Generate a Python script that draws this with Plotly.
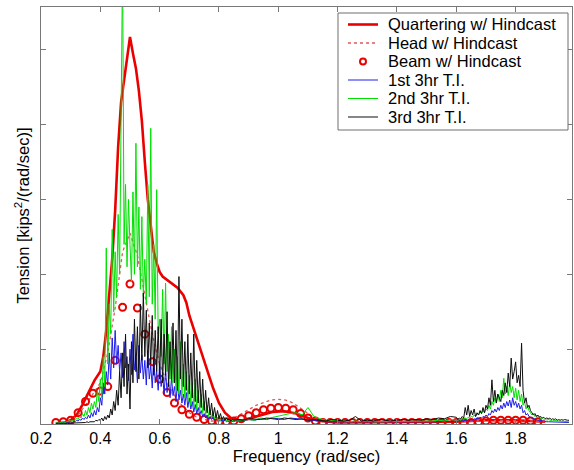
import numpy as np
import plotly.graph_objects as go

# ---------------- data ----------------
# Quartering w/ Hindcast (smooth spectrum)
quart_freq = [0.25, 0.28, 0.30, 0.32, 0.34, 0.36, 0.38, 0.40,
              0.41, 0.42, 0.43, 0.44, 0.45, 0.46, 0.47, 0.48, 0.49, 0.50, 0.51,
              0.52, 0.53, 0.54, 0.55, 0.56, 0.57, 0.58, 0.59, 0.60, 0.61, 0.62,
              0.64, 0.66, 0.68, 0.69, 0.70, 0.72, 0.74, 0.76, 0.78, 0.80,
              0.82, 0.84, 0.86, 0.88, 0.90, 0.94, 0.98, 1.02, 1.06, 1.10,
              1.14, 1.20, 1.30, 1.40, 1.50, 1.60, 1.70, 1.80, 1.90]
quart_vals = [0.01, 0.02, 0.05, 0.12, 0.26, 0.42, 0.58, 0.70,
              0.90, 1.25, 1.75, 2.20, 2.85, 3.70, 4.30, 4.60, 4.90, 5.17, 4.95,
              4.75, 4.45, 4.05, 3.50, 3.00, 2.65, 2.30, 2.15, 2.03, 1.97, 1.94,
              1.88, 1.82, 1.72, 1.62, 1.45, 1.20, 0.95, 0.70, 0.48, 0.28,
              0.15, 0.08, 0.05, 0.05, 0.07, 0.12, 0.16, 0.17, 0.14, 0.08,
              0.04, 0.02, 0.02, 0.02, 0.02, 0.03, 0.05, 0.05, 0.03]

# Head w/ Hindcast (dotted)
head_freq = np.round(np.arange(0.25, 1.9001, 0.025), 3)
head_vals = [0.01, 0.02, 0.05, 0.12, 0.25, 0.40, 0.55, 0.95,
             1.55, 2.30, 2.55, 2.25, 1.75, 1.20, 0.80, 0.55,
             0.38, 0.25, 0.15, 0.09, 0.06, 0.04, 0.04, 0.05,
             0.08, 0.13, 0.19, 0.25, 0.29, 0.32, 0.33, 0.32,
             0.28, 0.21, 0.13, 0.07, 0.04, 0.03, 0.03, 0.03,
             0.03, 0.03, 0.03, 0.03, 0.03, 0.03, 0.03, 0.03, 0.03, 0.03,
             0.03, 0.03, 0.03, 0.03, 0.03, 0.03, 0.03, 0.04, 0.05, 0.05,
             0.05, 0.05, 0.05, 0.05, 0.05, 0.04, 0.03]

# Beam w/ Hindcast (circles)
beam_freq = np.round(np.arange(0.25, 1.8751, 0.025), 3)
beam_vals = [0.02, 0.03, 0.05, 0.15, 0.30, 0.41, 0.44, 0.50,
             0.85, 1.56, 1.87, 1.55, 1.20, 0.83, 0.60, 0.42,
             0.28, 0.19, 0.13, 0.09, 0.06, 0.04, 0.03, 0.03,
             0.04, 0.07, 0.11, 0.15, 0.19, 0.21, 0.22, 0.21,
             0.19, 0.14, 0.08, 0.04, 0.02, 0.02, 0.02, 0.02,
             0.02, 0.02, 0.02, 0.02, 0.02, 0.02, 0.02, 0.02, 0.02,
             0.02, 0.02, 0.02, 0.02, 0.02, 0.02, 0.02, 0.02,
             0.03, 0.04, 0.05, 0.05, 0.05, 0.05, 0.05, 0.04, 0.03]

# time-integration spectra: three frequency bands
ti_freq_low = np.round(np.arange(0.25, 0.8501, 0.005), 3)
ti_freq_mid = np.round(np.arange(0.86, 1.6001, 0.02), 3)
ti_freq_high = np.round(np.arange(1.605, 1.9801, 0.005), 3)

ti1_low = [0.01, 0.01, 0.02, 0.01, 0.02, 0.02, 0.01, 0.02, 0.03, 0.02,
           0.03, 0.02, 0.04, 0.03, 0.05, 0.04, 0.06, 0.05, 0.08, 0.06,
           0.09, 0.07, 0.12, 0.08, 0.15, 0.10, 0.18, 0.12, 0.22, 0.16,
           0.35, 0.25, 0.55, 0.40, 0.70, 0.52, 0.95, 0.60, 1.15, 0.75,
           1.25, 0.80, 1.05, 0.70, 0.95, 0.62, 1.10, 0.75, 0.90, 0.58,
           1.00, 0.66, 1.20, 0.72, 0.88, 0.55, 1.05, 0.68, 0.92, 0.60,
           0.85, 0.52, 0.98, 0.60, 0.78, 0.48, 0.90, 0.55, 0.70, 0.45,
           0.80, 0.50, 0.65, 0.40, 0.72, 0.42, 0.58, 0.35, 0.62, 0.38,
           0.50, 0.30, 0.55, 0.32, 0.45, 0.28, 0.40, 0.25, 0.42, 0.22,
           0.35, 0.20, 0.30, 0.16, 0.26, 0.14, 0.22, 0.12, 0.18, 0.10,
           0.14, 0.08, 0.12, 0.07, 0.10, 0.06, 0.08, 0.05, 0.07, 0.05,
           0.06, 0.04, 0.05, 0.04, 0.05, 0.03, 0.04, 0.03, 0.04, 0.03,
           0.03]
ti1_mid = [0.05, 0.04, 0.06, 0.05, 0.07, 0.06, 0.08, 0.07, 0.06, 0.08,
           0.07, 0.06, 0.05, 0.04, 0.04, 0.03, 0.03, 0.03, 0.03, 0.02,
           0.03, 0.02, 0.03, 0.02, 0.02, 0.03, 0.02, 0.02, 0.03, 0.02,
           0.02, 0.03, 0.02, 0.03, 0.03, 0.04, 0.03, 0.04]
ti1_high = [0.04, 0.03, 0.04, 0.05, 0.04, 0.05, 0.04, 0.06, 0.05, 0.06,
            0.05, 0.07, 0.06, 0.08, 0.07, 0.09, 0.08, 0.10, 0.09, 0.12,
            0.10, 0.14, 0.12, 0.18, 0.15, 0.20, 0.16, 0.22, 0.18, 0.25,
            0.20, 0.28, 0.22, 0.30, 0.24, 0.32, 0.22, 0.35, 0.25, 0.30,
            0.22, 0.28, 0.20, 0.25, 0.15, 0.18, 0.12, 0.14, 0.10, 0.09,
            0.08, 0.07, 0.06, 0.06, 0.05, 0.05, 0.04, 0.04, 0.04, 0.03,
            0.03, 0.03, 0.03, 0.03, 0.02, 0.03, 0.02, 0.02, 0.02, 0.02,
            0.02, 0.02, 0.02, 0.02, 0.02, 0.02]

ti2_low = [0.01, 0.02, 0.01, 0.02, 0.02, 0.03, 0.02, 0.03, 0.03, 0.04,
           0.04, 0.05, 0.04, 0.06, 0.08, 0.06, 0.10, 0.08, 0.14, 0.10,
           0.18, 0.12, 0.22, 0.15, 0.28, 0.20, 0.30, 0.22, 0.45, 0.30,
           0.60, 0.35, 0.90, 0.50, 2.35, 0.80, 1.60, 1.20, 2.60, 1.50,
           2.30, 1.70, 2.80, 2.00, 4.70, 6.20, 2.40, 3.20, 2.10, 3.00,
           2.40, 1.90, 3.10, 2.00, 3.75, 2.10, 2.90, 1.80, 2.77, 1.70,
           2.20, 1.60, 3.20, 1.70, 3.95, 1.60, 2.40, 1.40, 3.13, 1.20,
           1.40, 0.90, 1.80, 0.80, 1.88, 0.70, 1.20, 0.60, 1.30, 0.55,
           1.00, 0.45, 0.90, 0.40, 1.10, 0.38, 0.80, 0.35, 0.70, 0.30,
           0.65, 0.25, 0.55, 0.22, 0.60, 0.20, 0.45, 0.18, 0.40, 0.15,
           0.30, 0.12, 0.25, 0.10, 0.20, 0.08, 0.15, 0.07, 0.12, 0.06,
           0.10, 0.05, 0.08, 0.05, 0.07, 0.04, 0.06, 0.04, 0.05, 0.04,
           0.04]
ti2_mid = [0.04, 0.05, 0.06, 0.05, 0.08, 0.07, 0.09, 0.10, 0.12, 0.14,
           0.15, 0.12, 0.22, 0.10, 0.07, 0.05, 0.05, 0.04, 0.04, 0.03,
           0.04, 0.03, 0.04, 0.03, 0.03, 0.04, 0.03, 0.03, 0.04, 0.03,
           0.04, 0.03, 0.04, 0.04, 0.05, 0.04, 0.06, 0.05]
ti2_high = [0.05, 0.06, 0.05, 0.07, 0.06, 0.08, 0.07, 0.09, 0.08, 0.10,
            0.09, 0.12, 0.10, 0.14, 0.12, 0.16, 0.14, 0.18, 0.15, 0.20,
            0.18, 0.25, 0.20, 0.30, 0.25, 0.35, 0.28, 0.40, 0.30, 0.45,
            0.35, 0.61, 0.40, 0.50, 0.38, 0.55, 0.42, 0.50, 0.35, 0.48,
            0.32, 0.45, 0.30, 0.40, 0.25, 0.30, 0.20, 0.25, 0.18, 0.15,
            0.12, 0.14, 0.10, 0.12, 0.08, 0.10, 0.07, 0.08, 0.06, 0.07,
            0.05, 0.06, 0.05, 0.05, 0.04, 0.05, 0.04, 0.04, 0.04, 0.04,
            0.03, 0.04, 0.03, 0.04, 0.03, 0.03]

ti3_low = [0.00, 0.01, 0.00, 0.01, 0.01, 0.00, 0.01, 0.01, 0.01, 0.01,
           0.01, 0.01, 0.02, 0.01, 0.02, 0.01, 0.02, 0.02, 0.02, 0.02,
           0.02, 0.03, 0.02, 0.03, 0.03, 0.04, 0.03, 0.05, 0.04, 0.06,
           0.05, 0.08, 0.04, 0.10, 0.06, 0.12, 0.08, 0.20, 0.12, 0.30,
           0.18, 0.45, 0.25, 0.70, 0.35, 0.95, 0.50, 1.20, 0.40, 0.80,
           0.20, 1.10, 0.55, 1.40, 0.70, 1.30, 0.60, 1.60, 0.85, 1.75,
           0.90, 1.52, 0.75, 1.35, 0.80, 1.45, 0.65, 1.25, 0.70, 1.30,
           0.60, 1.40, 0.55, 1.20, 0.65, 1.50, 0.50, 1.10, 0.60, 1.35,
           0.55, 1.25, 0.45, 1.97, 0.60, 1.40, 0.50, 1.10, 0.45, 1.20,
           0.40, 0.95, 0.35, 1.20, 0.30, 0.85, 0.28, 0.70, 0.22, 0.60,
           0.18, 0.45, 0.15, 0.35, 0.12, 0.28, 0.10, 0.22, 0.08, 0.18,
           0.07, 0.14, 0.06, 0.10, 0.05, 0.08, 0.05, 0.07, 0.04, 0.06,
           0.05]
ti3_mid = [0.06, 0.05, 0.07, 0.06, 0.06, 0.08, 0.07, 0.06, 0.08, 0.07,
           0.06, 0.07, 0.05, 0.06, 0.05, 0.04, 0.06, 0.05, 0.04, 0.05,
           0.10, 0.04, 0.05, 0.04, 0.06, 0.05, 0.04, 0.05, 0.06, 0.05,
           0.06, 0.05, 0.07, 0.06, 0.08, 0.07, 0.10, 0.09]
ti3_high = [0.06, 0.08, 0.07, 0.10, 0.08, 0.22, 0.12, 0.25, 0.10, 0.18,
            0.12, 0.20, 0.10, 0.15, 0.12, 0.18, 0.14, 0.22, 0.15, 0.25,
            0.20, 0.35, 0.25, 0.59, 0.30, 0.45, 0.28, 0.40, 0.35, 0.30,
            0.45, 0.38, 0.55, 0.42, 0.68, 0.50, 0.88, 0.60, 0.70, 0.83,
            0.55, 0.65, 0.50, 1.08, 0.45, 0.28, 0.35, 0.22, 0.25, 0.18,
            0.15, 0.12, 0.14, 0.10, 0.12, 0.09, 0.10, 0.08, 0.09, 0.07,
            0.08, 0.07, 0.08, 0.06, 0.07, 0.06, 0.07, 0.05, 0.06, 0.05,
            0.06, 0.05, 0.06, 0.05, 0.05, 0.05]

x_ticks = [0.2, 0.4, 0.6, 0.8, 1.0, 1.2, 1.4, 1.6, 1.8]
x_tick_labels = ["0.2", "0.4", "0.6", "0.8", "1", "1.2", "1.4", "1.6", "1.8"]
y_ticks = [0, 1, 2, 3, 4, 5]

series_names = ["Quartering w/ Hindcast", "Head w/ Hindcast", "Beam w/ Hindcast",
                "1st 3hr T.I.", "2nd 3hr T.I.", "3rd 3hr T.I."]

# ---------------- figure ----------------
W, H = 574, 470
ML, MR, MT, MB = 41, 2, 7, 46
FONT = "Liberation Sans, Arial, sans-serif"

ti_freq = np.concatenate([ti_freq_low, ti_freq_mid, ti_freq_high])
ti1 = ti1_low + ti1_mid + ti1_high
ti2 = ti2_low + ti2_mid + ti2_high
ti3 = ti3_low + ti3_mid + ti3_high

RED = "rgb(235,0,0)"
HEADC = "rgb(225,90,90)"
BLUE = "rgb(30,30,235)"
GREEN = "rgb(0,225,0)"
BLACK = "rgb(15,15,15)"

fig = go.Figure()
fig.add_trace(go.Scatter(x=quart_freq, y=quart_vals, mode="lines", name=series_names[0],
                         line=dict(color=RED, width=2.6)))
fig.add_trace(go.Scatter(x=head_freq, y=head_vals, mode="lines", name=series_names[1],
                         line=dict(color=HEADC, width=1.3, dash="dot")))
fig.add_trace(go.Scatter(x=beam_freq, y=beam_vals, mode="markers", name=series_names[2],
                         marker=dict(symbol="circle-open", size=7, color=RED,
                                     line=dict(width=2, color=RED))))
fig.add_trace(go.Scatter(x=ti_freq, y=ti1, mode="lines", name=series_names[3],
                         line=dict(color=BLUE, width=1)))
fig.add_trace(go.Scatter(x=ti_freq, y=ti2, mode="lines", name=series_names[4],
                         line=dict(color=GREEN, width=1)))
fig.add_trace(go.Scatter(x=ti_freq, y=ti3, mode="lines", name=series_names[5],
                         line=dict(color=BLACK, width=1)))

PW = W - ML - MR
PH = H - MT - MB


def px_x(p):
    return (p - ML) / PW


def px_y(p):
    return (H - MB - p) / PH


# hand-built legend box (matches the compact MATLAB legend)
shapes = [dict(type="rect", xref="paper", yref="paper",
               x0=px_x(338), x1=px_x(568), y0=px_y(130), y1=px_y(13),
               line=dict(color="rgb(110,110,110)", width=1), fillcolor="white", layer="above")]
annotations = []
row_y = [24.5, 43, 61.5, 80, 98.5, 117]
styles = [dict(color=RED, width=2.6, dash="solid"),
          dict(color=HEADC, width=1.3, dash="dot"),
          None,
          dict(color=BLUE, width=1, dash="solid"),
          dict(color=GREEN, width=1, dash="solid"),
          dict(color=BLACK, width=1, dash="solid")]
for name, yy, st in zip(series_names, row_y, styles):
    if st is None:
        shapes.append(dict(type="circle", xref="paper", yref="paper",
                           xsizemode="pixel", ysizemode="pixel",
                           xanchor=px_x(363), yanchor=px_y(yy),
                           x0=-3, x1=3, y0=-3, y1=3,
                           line=dict(color=RED, width=2), layer="above"))
    else:
        shapes.append(dict(type="line", xref="paper", yref="paper",
                           x0=px_x(348), x1=px_x(378), y0=px_y(yy), y1=px_y(yy),
                           line=st, layer="above"))
    annotations.append(dict(text=name, xref="paper", yref="paper",
                            x=px_x(386), y=px_y(yy), xanchor="left", yanchor="middle",
                            showarrow=False, font=dict(family=FONT, size=16.5, color="black")))

fig.update_layout(
    width=W, height=H,
    margin=dict(l=ML, r=MR, t=MT, b=MB, pad=0),
    paper_bgcolor="white", plot_bgcolor="white",
    showlegend=False,
    font=dict(family=FONT, size=16, color="black"),
    shapes=shapes, annotations=annotations,
)
axis_common = dict(showgrid=False, zeroline=False, showline=True, linecolor="rgb(120,120,120)",
                   linewidth=1, mirror="ticks", ticks="inside", ticklen=5,
                   tickcolor="rgb(120,120,120)", tickwidth=1)
fig.update_xaxes(range=[0.2, 1.99], tickvals=x_ticks, ticktext=x_tick_labels,
                 tickfont=dict(family=FONT, size=16, color="black"),
                 title=dict(text="Frequency (rad/sec)", font=dict(family=FONT, size=16.5, color="black"),
                            standoff=4),
                 **axis_common)
fig.update_yaxes(range=[0, 5.57], tickvals=y_ticks, showticklabels=False,
                 title=dict(text="Tension [kips<sup>2</sup>/(rad/sec)]",
                            font=dict(family=FONT, size=16.5, color="black"), standoff=6),
                 **axis_common)

fig.write_html("out.html")
